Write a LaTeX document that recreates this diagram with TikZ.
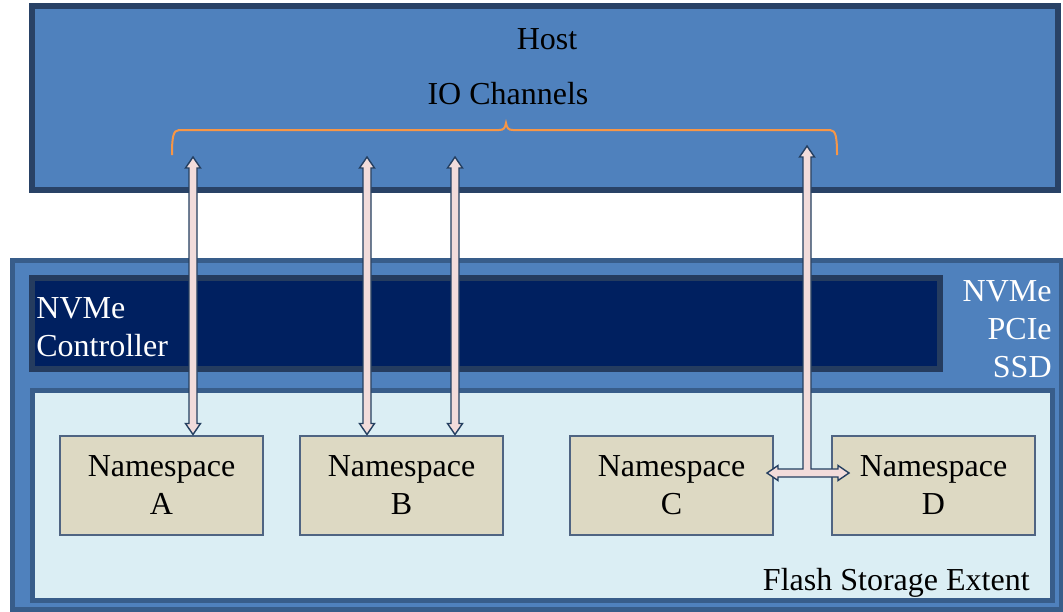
\documentclass[tikz,border=0pt]{standalone}
\usepackage{fontspec}
\setmainfont{Liberation Serif}
\usepackage{xcolor}
\usepackage{tikz}
\usetikzlibrary{calc}
\definecolor{boxblue}{RGB}{79,129,189}
\definecolor{hostline}{RGB}{41,66,102}
\definecolor{ssdline}{RGB}{56,93,138}
\definecolor{ctrlfill}{RGB}{0,32,96}
\definecolor{ctrlline}{RGB}{37,60,95}
\definecolor{flashfill}{RGB}{219,238,244}
\definecolor{nsfill}{RGB}{221,217,195}
\definecolor{nsline}{RGB}{79,100,130}
\definecolor{arrfill}{RGB}{242,220,219}
\definecolor{arrline}{RGB}{36,63,96}
\definecolor{braceorange}{RGB}{247,150,70}
\tikzstyle{bigbox} = [draw, inner sep=0pt, outer sep=0pt]
\tikzstyle{ns} = [draw=nsline, fill=nsfill, line width=1pt,
	minimum width=101.5pt,
	minimum height=49.5pt,
	align=center, inner sep=0pt]
\tikzstyle{wtext} = [text=white, inner sep=0pt]
\tikzstyle{blockarrow} = [draw=arrline, fill=arrfill, line width=0.7pt, line join=miter]
\newcommand{\ioarrow}[2]{\draw[blockarrow] (#1) -- ($(#1)+(7.5,11)$) -- ($(#1)+(4,11)$)
	-- ($(#2)+(4,-11)$) -- ($(#2)+(7.5,-11)$) -- (#2) -- ($(#2)+(-7.5,-11)$)
	-- ($(#2)+(-4,-11)$) -- ($(#1)+(-4,11)$) -- ($(#1)+(-7.5,11)$) -- cycle}

\begin{document}
\begin{tikzpicture}[x=0.5pt, y=-0.5pt, font=\fontsize{16}{19}\selectfont]
	\useasboundingbox (0,0) rectangle (1063,611);
	
	% host side
	\node (host) [bigbox, draw=hostline, fill=boxblue, line width=3pt,
		minimum width=513pt, minimum height=92pt] at (545,98) {};
	\node (hostTxt) [anchor=base, inner sep=0pt] at (547,49) {Host};
	\node (ioTxt) [anchor=base, inner sep=0pt] at (508,104) {IO Channels};
	\draw [braceorange, line width=1pt] (172,155) .. controls (172,138) and (173,130) .. (179,130)
		-- (499,130) .. controls (504,130) and (505,128) .. (506,123)
		.. controls (507,128) and (508,130) .. (513,130)
		-- (830,130) .. controls (836,130) and (837,138) .. (837,155);
	
	% ssd side
	\node (ssd) [bigbox, draw=ssdline, fill=boxblue, line width=2.5pt,
		minimum width=524.5pt, minimum height=174.5pt] at (536.5,434.5) {};
	\node (ctrl) [bigbox, draw=ctrlline, fill=ctrlfill, line width=3pt,
		minimum width=454pt, minimum height=45.5pt] at (486,323.5) {};
	\node (ctrlTxt) [wtext, anchor=west, align=left] at (36,327) {NVMe\\Controller};
	\node (ssdTxt) [wtext, anchor=east, align=right] at (1052,329) {NVMe\\PCIe\\SSD};
	\node (flash) [bigbox, draw=ssdline, fill=flashfill, line width=2.5pt,
		minimum width=510pt, minimum height=105pt] at (542,495) {};
	\node (flashTxt) [anchor=base east, inner sep=0pt] at (1030,590) {Flash Storage Extent};
	
	\node (nsA) [ns] at (161.5,485) {Namespace\\A};
	\node (nsB) [ns] at (401.5,485) {Namespace\\B};
	\node (nsC) [ns] at (671.5,485) {Namespace\\C};
	\node (nsD) [ns] at (933.5,485) {Namespace\\D};
	
	% io channels
	\coordinate (chA) at (193,157);
	\coordinate (chB1) at (367,157);
	\coordinate (chB2) at (455,157);
	\coordinate (chCD) at (807,146);
	\coordinate (inA) at (chA |- nsA.north);
	\coordinate (inB1) at (chB1 |- nsB.north);
	\coordinate (inB2) at (chB2 |- nsB.north);
	\ioarrow{chA}{inA};
	\ioarrow{chB1}{inB1};
	\ioarrow{chB2}{inB2};
	
	\coordinate (inC) at ($(nsC.east)+(-7,-12)$);
	\coordinate (inD) at ($(nsD.west)+(18,-12)$);
	\draw [blockarrow] (chCD) -- ($(chCD)+(7.5,11)$) -- ($(chCD)+(4,11)$)
		-- ($(chCD |- inD)+(4,-4)$) -- ($(inD)+(-11,-4)$) -- ($(inD)+(-11,-7.5)$)
		-- (inD) -- ($(inD)+(-11,7.5)$) -- ($(inD)+(-11,4)$)
		-- ($(inC)+(11,4)$) -- ($(inC)+(11,7.5)$) -- (inC) -- ($(inC)+(11,-7.5)$)
		-- ($(inC)+(11,-4)$) -- ($(chCD |- inC)+(-4,-4)$)
		-- ($(chCD)+(-4,11)$) -- ($(chCD)+(-7.5,11)$) -- cycle;
\end{tikzpicture}
\end{document}
